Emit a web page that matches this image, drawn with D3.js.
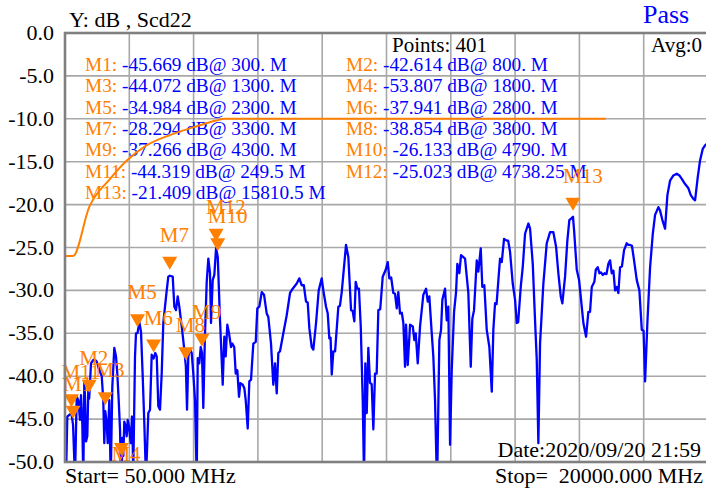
<!DOCTYPE html>
<html>
<head>
<meta charset="utf-8">
<script src="https://cdn.jsdelivr.net/npm/d3@7"></script>
<style>
html,body{margin:0;padding:0;background:#fff;}
svg{display:block;}
text{font-family:"Liberation Serif","Times New Roman",serif;white-space:pre;}
</style>
</head>
<body>
<svg id="chart" width="706" height="489"></svg>
<script>
// ---- data ----
const traceFreq = [50,81,121,183,249.5,300,360,413,463,515,546,587,618,649,671,702,742,773,800,857,928,981,1034,1083,1136,1189,1238,1269,1300,1344,1375,1425,1468,1518,1580,1633,1673,1716,1757,1800,1828,1859,1890,1934,1964,1996,2036,2089,2129,2169,2222,2253,2300,2356,2408,2461,2511,2563,2635,2688,2740,2800,2850,2896,2945,2998,3050,3100,3153,3206,3255,3300,3392,3442,3494,3547,3597,3671,3743,3800,3836,3876,3929,3981,4031,4084,4137,4168,4217,4261,4300,4341,4390,4447,4497,4549,4580,4633,4683,4738.25,4790,4860,4912,4943,4993,5036,5086,5139,5201,5241,5300,5347,5396,5449,5490,5564,5614,5657,5719,5769,5822,5893,5968,6017,6079,6154,6225,6309,6358,6442,6513,6566,6619,6669,6721,6824,6929,7032,7115,7240,7320,7395,7460,7528,7580,7631,7705,7755,7839,7922,8015,8065,8149,8202,8251,8290,8326,8375,8430,8531,8580,8636,8769,8841,8925,8975,9027,9070,9120,9170,9226,9288,9328,9368,9412,9461,9514,9565,9617,9669,9720,9772,9830,9908,10001,10064,10113,10170,10237,10290,10343,10392,10445,10500,10548,10600,10631,10684,10756,10840,10889,10932,10994,11066,11168,11252,11305,11354,11429,11478,11531,11593,11665,11717,11758,11841,11894,11944,11997,12049,12121,12183,12223,12285,12338,12462,12515,12564,12639,12688,12741,12825,12874,12949,12998,13060,13135,13216,13291,13340,13393,13440,13496,13548,13601,13672,13756,13800,13858,13942,14014,14066,14110,14190,14252,14324,14426,14479,14563,14634,14687,14737,14789,14892,14997,15100,15200,15286,15357,15432,15481,15565,15636,15698,15760,15810.5,15845,15928,16000,16083,16133,16217,16288,16340,16394,16474,16518,16580,16630,16680,16735,16790,16850,16909,16962,17014,17065,17117,17170,17219,17272,17330,17396,17479,17530,17582,17640,17706,17790,17871,17946,18000,18048,18119,18203,18287,18358,18461,18513,18585,18668,18740,18824,18926,19031,19112,19186,19289,19392,19466,19541,19599,19682,19754,19838,19909,20000];
const traceDb = [-48.8,-52,-44.7,-44.5,-44.32,-45.67,-52,-42.4,-42.8,-45.1,-42.2,-45.5,-52,-40.8,-42.4,-47.6,-47,-41.6,-42.61,-38.5,-38.1,-38.1,-38.3,-38.9,-39.5,-40,-42.8,-47.8,-44.07,-45.5,-47.8,-42.8,-52,-41.2,-36.7,-37.7,-39.7,-42.8,-46.2,-53.8,-47.2,-49.3,-45.3,-45.9,-47,-45.1,-45.9,-47.8,-44.7,-51,-37.7,-35,-34.98,-33.7,-34.8,-40,-45.5,-52,-44.3,-43.9,-37.5,-37.94,-37.3,-37.7,-43.5,-43.9,-39.7,-33.8,-31.9,-30,-28.4,-28.29,-28.4,-31.9,-32.3,-30.7,-31.9,-34.2,-36.6,-38.85,-43.9,-37.7,-36.9,-37.3,-39.7,-42.8,-52,-37.9,-38.5,-36.6,-37.27,-43.7,-35.5,-29,-26.3,-28,-33.8,-28.8,-28.2,-25.02,-26.13,-33.5,-38.1,-41,-35.4,-37.7,-34,-35,-36.6,-36.2,-36.6,-39.7,-39.3,-42.4,-40.8,-41,-41.4,-42.8,-46.1,-40.6,-40.4,-36.2,-36,-32.1,-31.9,-30.2,-30.5,-32.7,-33.1,-36.2,-41,-38.5,-42,-37.3,-37.1,-35,-32.9,-30.3,-29.8,-29.2,-28.6,-29.4,-29.4,-31.3,-31.4,-34.4,-36.6,-36.9,-33.8,-30,-28.6,-30,-31.9,-32.7,-35.6,-35.5,-39.8,-37.1,-37.1,-31.9,-31.8,-30.2,-24.7,-26.1,-32.3,-32.4,-33.6,-29,-29.8,-29.8,-34.2,-42.8,-52,-38.5,-44.3,-36.7,-40.8,-40.9,-46.2,-39.7,-39.7,-32.3,-32.2,-28.4,-27.6,-26.7,-28.6,-28.5,-30.3,-30.4,-32.1,-30.2,-32.7,-32.6,-33.8,-38.9,-34,-38.7,-34,-34.2,-35.8,-35,-38.5,-34.2,-30.5,-29.8,-31.3,-30.7,-35,-37.7,-42.8,-53,-35.8,-34.6,-31.1,-29.8,-33.5,-31.9,-48,-39.3,-32.5,-30.2,-26.9,-28,-25.9,-26.3,-28.4,-30.3,-38.9,-33.3,-32.3,-26.5,-27.8,-25.1,-29.6,-29.4,-34.6,-36.6,-41.8,-34.6,-31.5,-31.6,-28.8,-26.3,-26.7,-24,-24.2,-24.2,-25.5,-29.2,-31.1,-33.8,-33.7,-29.6,-27.3,-23.4,-22.2,-22.8,-26.9,-33.5,-38.1,-47.8,-36.2,-29.2,-24.5,-23.2,-23.2,-24.9,-28,-30.7,-31.5,-28.4,-24.2,-21.8,-21.6,-21.41,-23,-27.6,-28.8,-31.9,-33.8,-35.4,-32.5,-32.5,-29.6,-29,-27.6,-27.3,-28,-27.9,-28.2,-28,-28.1,-26.9,-26.5,-28,-27.7,-30,-29.6,-30.3,-27.3,-27.2,-25.3,-24.5,-24.7,-24.7,-24.8,-26.5,-28.8,-30,-34.6,-34.7,-40.6,-33.8,-27.3,-23.4,-21.2,-20.3,-20.7,-21.8,-22.8,-18.9,-17.2,-16.6,-16.4,-16.6,-17,-17.6,-18.1,-18.9,-19.3,-19.5,-16.8,-14.85,-13.5,-13.1,-12.8];

const limitFreq = [50,300,800,1450,1960,2580,3300,4030,4750,5000,16830];
const limitDb   = [-26,-26,-20.3,-17,-14.9,-13.1,-11.9,-11.0,-10.2,-10,-10];

const markerNames = ["M1","M2","M3","M4","M5","M6","M7","M8","M9","M10","M11","M12","M13"];
const markerFreq  = [300,800,1300,1800,2300,2800,3300,3800,4300,4790,249.5,4738.25,15810.5];
const markerDb    = [-45.669,-42.614,-44.072,-53.807,-34.984,-37.941,-28.294,-38.854,-37.266,-26.133,-44.319,-25.023,-21.409];

const yTicks = [0,-5,-10,-15,-20,-25,-30,-35,-40,-45,-50];
const xGridFreq = [2045,4040,6035,8030,10025,12020,14015,16010,18005];

// ---- drawing ----
const svg = d3.select("#chart");
const X0=65, X1=708, Y0=33, Y1=462;
const x = d3.scaleLinear().domain([50,20000]).range([X0,X1]);
const y = d3.scaleLinear().domain([0,-50]).range([Y0,Y1]);
const ORANGE = "#ff8000", BLUE = "#0000ff";

svg.append("defs").append("clipPath").attr("id","clip")
  .append("rect").attr("x",X0).attr("y",Y0).attr("width",X1-X0).attr("height",Y1-Y0);

// grid
svg.append("g").selectAll("line").data(yTicks.slice(1,-1)).join("line")
  .attr("x1",X0).attr("x2",X1).attr("y1",d=>y(d)).attr("y2",d=>y(d))
  .attr("stroke","#a8a8a8").attr("stroke-width",1.6);
svg.append("g").selectAll("line").data(xGridFreq).join("line")
  .attr("x1",d=>x(d)).attr("x2",d=>x(d)).attr("y1",Y0).attr("y2",Y1)
  .attr("stroke","#a8a8a8").attr("stroke-width",1.6);

// y axis labels
svg.append("g").selectAll("text").data(yTicks).join("text")
  .attr("x",54).attr("y",d=>y(d)+7).attr("text-anchor","end")
  .attr("font-size",22).attr("fill","#000").text(d=>d.toFixed(1));

// header texts
svg.append("text").attr("x",69).attr("y",26.5).attr("font-size",22).text("Y: dB , Scd22");
svg.append("text").attr("x",643).attr("y",22.5).attr("font-size",26).attr("fill",BLUE).text("Pass");
svg.append("text").attr("x",392).attr("y",51.5).attr("font-size",21).text("Points: 401");
svg.append("text").attr("x",702).attr("y",51.5).attr("font-size",21).attr("text-anchor","end").text("Avg:0");

// legend
const legend = svg.append("g").attr("font-size",19.3);
markerNames.forEach((name,i)=>{
  const col = i % 2, row = Math.floor(i/2);
  const f = markerFreq[i];
  const fl = Number.isInteger(f) ? f + "." : String(f);
  const t = legend.append("text").attr("x", col===0 ? 85 : 346).attr("y", 70.7 + row*21.4);
  t.append("tspan").attr("fill",ORANGE).text(name + ": ");
  t.append("tspan").attr("fill",BLUE).text(markerDb[i].toFixed(3) + " dB@ " + fl + " M");
});

// limit line
const limitData = limitFreq.map((f,i)=>[f,limitDb[i]]);
svg.append("path").datum(limitData)
  .attr("d", d3.line().x(d=>x(d[0])).y(d=>y(d[1])).curve(d3.curveMonotoneX))
  .attr("fill","none").attr("stroke",ORANGE).attr("stroke-width",2);

// trace
const traceData = traceFreq.map((f,i)=>[f,traceDb[i]]);
svg.append("path").datum(traceData).attr("clip-path","url(#clip)")
  .attr("d", d3.line().x(d=>x(d[0])).y(d=>y(d[1])))
  .attr("fill","none").attr("stroke",BLUE).attr("stroke-width",2.3).attr("stroke-linejoin","round");

// markers
const mg = svg.append("g");
markerNames.forEach((name,i)=>{
  const cx = x(markerFreq[i]);
  const clamped = markerDb[i] < -50;
  const tip = clamped ? Y1 - 6 : y(markerDb[i]) - 6;
  const top = tip - 13;
  mg.append("path").attr("d",`M${cx-7.5},${top}L${cx+7.5},${top}L${cx},${tip}Z`).attr("fill",ORANGE);
  mg.append("text").attr("x",cx-10).attr("y", clamped ? Y1-1 : top-15)
    .attr("font-size",21).attr("fill",ORANGE).text(name);
});

// frame
svg.append("rect").attr("x",X0).attr("y",Y0).attr("width",X1-X0).attr("height",Y1-Y0)
  .attr("fill","none").attr("stroke","#808080").attr("stroke-width",2.6);

// footer
svg.append("text").attr("x",701).attr("y",456.5).attr("font-size",22).attr("text-anchor","end").text("Date:2020/09/20 21:59");
svg.append("text").attr("x",65).attr("y",482.5).attr("font-size",22).text("Start= 50.000 MHz");
svg.append("text").attr("x",703).attr("y",482.5).attr("font-size",22).attr("text-anchor","end").text("Stop=  20000.000 MHz");
</script>
</body>
</html>
